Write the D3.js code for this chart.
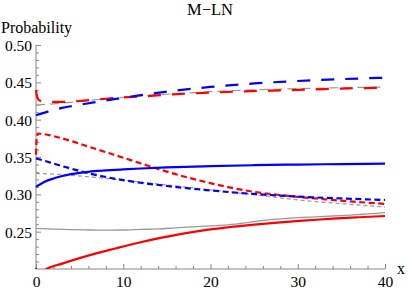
<!DOCTYPE html>
<html>
<head>
<meta charset="utf-8">
<script src="https://cdn.jsdelivr.net/npm/d3@7"></script>
<style>
  html, body { margin: 0; padding: 0; background: #fff; }
  svg { display: block; }
  svg text { font-family: "Liberation Serif", "DejaVu Serif", "Times New Roman", serif; }
</style>
</head>
<body>
<svg id="canvas"></svg>
<script>
const WIDTH = 409;
const HEIGHT = 291;

// upper group (long dashes)
const blueLongX = [0, 1, 2, 3, 4, 5, 7, 9, 11, 13, 16, 20, 25, 30, 35, 40];
const blueLongY = [0.406, 0.4095, 0.413, 0.4158, 0.418, 0.42, 0.4238, 0.4275, 0.431, 0.4345, 0.439, 0.4438, 0.4485, 0.4518, 0.4543, 0.4562];
const redLongX = [0, 0.1, 0.3, 0.7, 1.5, 3, 5, 7, 10, 12, 15, 18, 21, 24, 27, 30, 33, 36, 40];
const redLongY = [0.4395, 0.432, 0.4265, 0.4248, 0.424, 0.4238, 0.425, 0.427, 0.4297, 0.431, 0.4334, 0.4352, 0.4367, 0.438, 0.439, 0.4398, 0.441, 0.442, 0.4428];
const grayLongX = [0, 4, 8, 12, 16, 20, 25, 30, 35, 40];
const grayLongY = [0.4195, 0.4232, 0.428, 0.4318, 0.4348, 0.4375, 0.44, 0.4415, 0.4428, 0.4438];

// middle group
const blueSolidX = [0, 0.5, 1, 2, 3, 4, 5, 6, 8, 10, 12, 15, 20, 25, 30, 35, 40];
const blueSolidY = [0.31, 0.3135, 0.3168, 0.3212, 0.3245, 0.327, 0.3288, 0.3302, 0.332, 0.3334, 0.3346, 0.336, 0.3377, 0.339, 0.3399, 0.3405, 0.341];
const blueShortX = [0, 1, 2, 3, 4, 5, 6, 8, 10, 12, 15, 20, 25, 30, 35, 40];
const blueShortY = [0.348, 0.3448, 0.3412, 0.3378, 0.3345, 0.3312, 0.3283, 0.3232, 0.319, 0.3155, 0.3112, 0.3052, 0.3005, 0.297, 0.2945, 0.2924];
const redShortX = [0, 0.05, 0.2, 1, 2, 4, 6, 8, 10, 12, 14, 16, 18, 20, 22, 24, 26, 28, 30, 32, 34, 36, 38, 40];
const redShortY = [0.353, 0.37, 0.3815, 0.3805, 0.378, 0.3715, 0.364, 0.3565, 0.349, 0.3415, 0.334, 0.327, 0.3207, 0.315, 0.3097, 0.3052, 0.3017, 0.299, 0.2966, 0.2945, 0.2925, 0.2905, 0.2888, 0.2871];
const grayShortX = [0, 3, 6, 10, 15, 20, 25, 30, 35, 40];
const grayShortY = [0.328, 0.3265, 0.3235, 0.319, 0.3125, 0.306, 0.2995, 0.2925, 0.2875, 0.283];

// lower group
const graySolidX = [0, 2, 4, 6, 8, 10, 12, 14, 16, 18, 20, 22, 24, 26, 28, 30, 32, 34, 36, 38, 40];
const graySolidY = [0.2545, 0.2535, 0.2527, 0.2522, 0.252, 0.2522, 0.253, 0.2537, 0.2552, 0.2565, 0.2578, 0.2592, 0.2618, 0.2652, 0.2672, 0.2688, 0.2698, 0.271, 0.2722, 0.2738, 0.2754];
const redSolidX = [0, 0.08, 1.2, 3, 5, 7, 9, 10, 12, 14, 16.5, 19, 22, 25, 28, 31, 34, 37, 40];
const redSolidY = [0.2015, 0.19, 0.2, 0.2072, 0.2145, 0.2212, 0.2272, 0.2302, 0.2358, 0.241, 0.2468, 0.2515, 0.2558, 0.2594, 0.2625, 0.265, 0.2674, 0.2693, 0.271];

const xTicks = [0, 10, 20, 30, 40];
const yTicks = [0.25, 0.3, 0.35, 0.4, 0.45, 0.5];

const canvas = d3.select("#canvas").attr("width", WIDTH).attr("height", HEIGHT);

const xScale = d3.scaleLinear().domain([0, 40]).range([36, 385]);
const yScale = d3.scaleLinear().domain([0.2, 0.5]).range([269, 45]);

canvas.append("defs").append("clipPath").attr("id", "clip")
  .append("rect")
  .attr("x", 34).attr("y", 40)
  .attr("width", 354).attr("height", 229);

const zip = (xs, ys) => xs.map((x, i) => [x, ys[i]]);

const line = d3.line()
  .x((d) => xScale(d[0]))
  .y((d) => yScale(d[1]))
  .curve(d3.curveMonotoneX);

const series = [
  { pts: zip(grayLongX, grayLongY), color: "#999", width: 1.2, dash: "9,5" },
  { pts: zip(grayShortX, grayShortY), color: "#999", width: 1.2, dash: "4,3" },
  { pts: zip(graySolidX, graySolidY), color: "#999", width: 1.3, dash: null },
  { pts: zip(redLongX, redLongY), color: "#f00", width: 2.2, dash: "13,11" },
  { pts: zip(blueLongX, blueLongY), color: "#00f", width: 2.2, dash: "13,11" },
  { pts: zip(redShortX, redShortY), color: "#f00", width: 2.2, dash: "6,3.5" },
  { pts: zip(blueShortX, blueShortY), color: "#00f", width: 2.2, dash: "6,3.5" },
  { pts: zip(blueSolidX, blueSolidY), color: "#00f", width: 2.2, dash: null },
  { pts: zip(redSolidX, redSolidY), color: "#f00", width: 2.2, dash: null },
];

// axes
const axisColor = "#888";
const serif = "'Liberation Serif', 'DejaVu Serif', 'Times New Roman', serif";

const yMinor = d3.range(21, 51).map((d) => d / 100).filter((d) => Math.round(d * 100) % 5 !== 0);
const xMinor = d3.range(2, 40, 2).filter((d) => d % 10 !== 0);

const yAxis = canvas.append("g")
  .attr("transform", "translate(36,0)")
  .call(d3.axisLeft(yScale).tickValues(yTicks).tickSize(-5).tickPadding(4)
    .tickFormat(d3.format(".2f")));
const yAxisMinor = canvas.append("g")
  .attr("transform", "translate(36,0)")
  .call(d3.axisLeft(yScale).tickValues(yMinor).tickSize(-3).tickFormat(""));

const xAxis = canvas.append("g")
  .attr("transform", "translate(0,269)")
  .call(d3.axisBottom(xScale).tickValues(xTicks).tickSize(-5).tickPadding(6)
    .tickFormat(d3.format("d")));
const xAxisMinor = canvas.append("g")
  .attr("transform", "translate(0,269)")
  .call(d3.axisBottom(xScale).tickValues(xMinor).tickSize(-3).tickFormat(""));

[yAxis, yAxisMinor, xAxis, xAxisMinor].forEach((g) => {
  g.attr("font-family", serif);
  g.selectAll("path").attr("stroke", axisColor).attr("stroke-width", 1);
  g.selectAll("line").attr("stroke", axisColor).attr("stroke-width", 1);
  g.selectAll("text").attr("fill", "#000")
    .attr("font-family", serif)
    .style("font-size", "15.5px");
});
yAxis.selectAll(".domain").attr("d", "M0,45V269");
yAxisMinor.selectAll(".domain").remove();
xAxisMinor.selectAll(".domain").remove();
xAxis.selectAll(".domain").attr("d", "M36,0H385");
yAxis.selectAll("text").attr("dy", "0.36em");
xAxis.selectAll("text").attr("dy", "0.78em");

// curves
const plot = canvas.append("g").attr("clip-path", "url(#clip)");
series.forEach((s) => {
  plot.append("path")
    .attr("d", line(s.pts))
    .attr("fill", "none")
    .attr("stroke", s.color)
    .attr("stroke-width", s.width)
    .attr("stroke-dasharray", s.dash);
});

// labels
canvas.append("text")
  .attr("x", 210).attr("y", 15)
  .attr("text-anchor", "middle")
  .attr("font-family", serif)
  .style("font-size", "16.5px")
  .text("M\u2212LN");

canvas.append("text")
  .attr("x", 1).attr("y", 33)
  .attr("font-family", serif)
  .style("font-size", "16px")
  .text("Probability");

canvas.append("text")
  .attr("x", 397).attr("y", 274)
  .attr("font-family", serif)
  .style("font-size", "16px")
  .text("x");
</script>
</body>
</html>
